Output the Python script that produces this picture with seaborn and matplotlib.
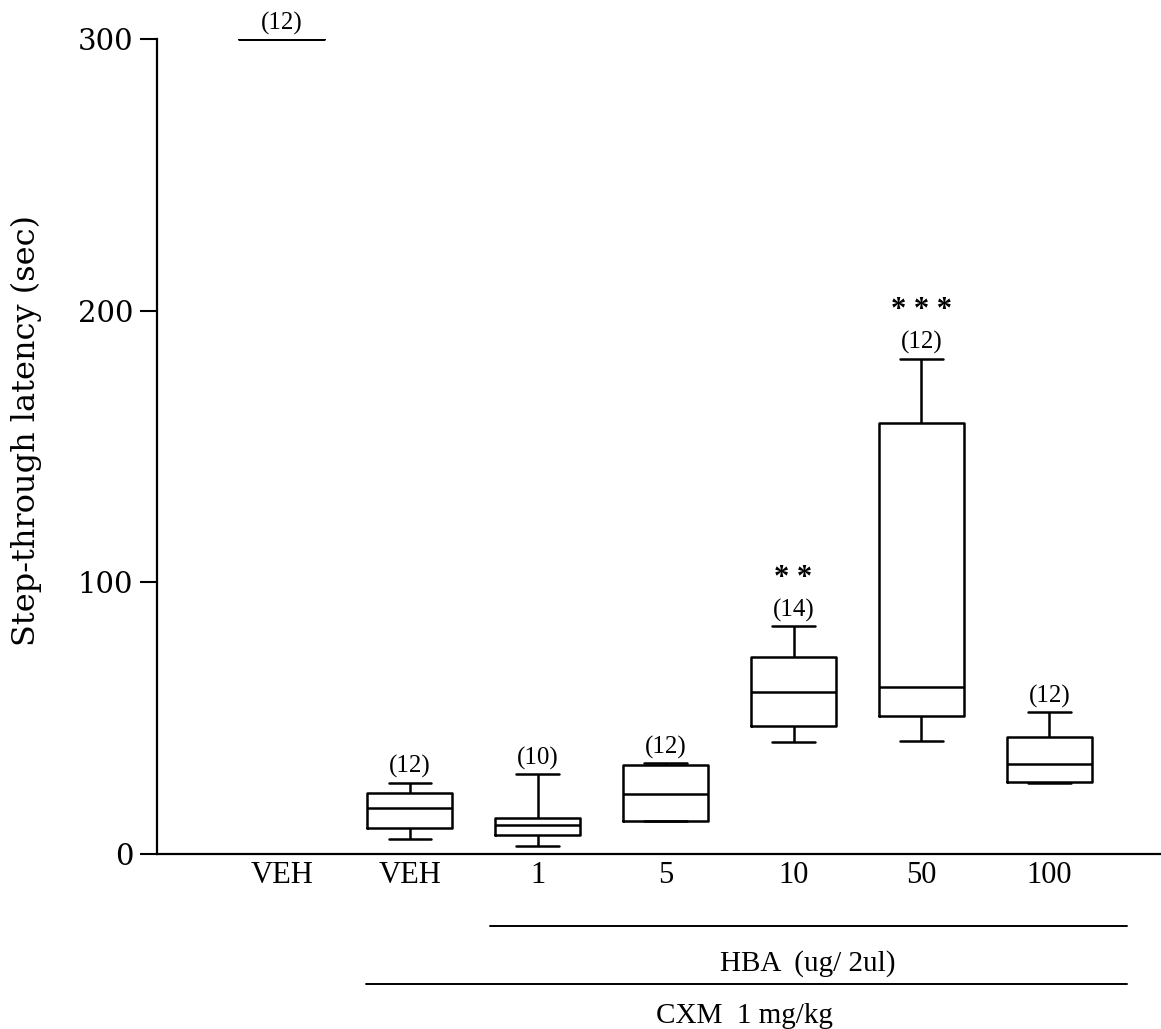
import numpy as np
import pandas as pd
import matplotlib
matplotlib.use('Agg')
import matplotlib.pyplot as plt
import seaborn as sns

# Group labels and box statistics (sec)
groups = ['VEH', 'VEH ', '1', '5', '10', '50', '100']
whisker_lo = [300, 5.6, 2.9, 12.2, 41.3, 41.5, 26.3]
q1 = [300, 9.7, 6.9, 12.2, 47.2, 50.9, 26.7]
median = [300, 17.1, 10.7, 22.2, 59.7, 61.6, 33.2]
q3 = [300, 22.6, 13.1, 32.8, 72.6, 158.5, 43.1]
whisker_hi = [300, 26.3, 29.3, 33.5, 84.0, 182.4, 52.3]
n_labels = ['(12)', '(12)', '(10)', '(12)', '(14)', '(12)', '(12)']
stars = ['', '', '', '', '* *', '* * *', '']

# five summary values per group -> boxplot stats come out exactly
rows = []
for g, a, b, c, d, e in zip(groups, whisker_lo, q1, median, q3, whisker_hi):
    for v in (a, b, c, d, e):
        rows.append({'group': g, 'value': v})
df = pd.DataFrame(rows)

sns.set_style('white')
plt.rcParams['font.family'] = ['Liberation Serif', 'DejaVu Serif']
plt.rcParams['text.color'] = 'black'
plt.rcParams['xtick.color'] = 'black'
plt.rcParams['ytick.color'] = 'black'
plt.rcParams['axes.labelcolor'] = 'black'

fig = plt.figure(figsize=(11.61, 10.29), dpi=100)
ax = fig.add_axes([0.1352, 0.1700, 0.8638, 0.7921])

sns.boxplot(data=df, x='group', y='value', order=groups, whis=(0, 100),
            width=0.665, fill=False, color='black', linecolor='black',
            linewidth=1.8, showfliers=False, ax=ax)

ax.set_xlim(-0.977, 6.864)
ax.set_ylim(0, 300)
ax.set_yticks([0, 100, 200, 300])
ax.set_yticklabels(['0', '100', '200', '300'], fontsize=21, family='DejaVu Serif')
ax.set_xticks(range(len(groups)))
ax.set_xticklabels([g.strip() for g in groups], fontsize=22)
ax.tick_params(axis='x', length=0, pad=5)
ax.tick_params(axis='y', length=12, width=1.5, pad=5, direction='out', left=True)
ax.set_xlabel('')
ax.set_ylabel('Step-through latency (sec)', fontsize=23, family='DejaVu Serif')
ax.yaxis.set_label_coords(-0.1147, 0.52)

sns.despine(ax=ax)
for s in ('left', 'bottom'):
    ax.spines[s].set_linewidth(1.6)
    ax.spines[s].set_color('black')

# n and significance above each box
for i, (hi, n, st) in enumerate(zip(whisker_hi, n_labels, stars)):
    ax.annotate(n, (i, hi), xytext=(0, 3), textcoords='offset points',
                ha='center', va='bottom', fontsize=18, annotation_clip=False)
    if st:
        ax.annotate(st, (i, hi), xytext=(0, 24), textcoords='offset points',
                    ha='center', va='bottom', fontsize=22, fontweight='bold',
                    annotation_clip=False)

# treatment brackets under the axis
trans = ax.get_xaxis_transform()
ax.plot([1.63, 6.61], [-0.0885, -0.0885], color='black', lw=1.4,
        transform=trans, clip_on=False)
ax.text(4.11, -0.134, 'HBA  (ug/ 2ul)', transform=trans, ha='center',
        va='center', fontsize=21)
ax.plot([0.66, 6.61], [-0.160, -0.160], color='black', lw=1.4,
        transform=trans, clip_on=False)
ax.text(3.62, -0.199, 'CXM  1 mg/kg', transform=trans, ha='center',
        va='center', fontsize=21)

fig.savefig('out.png', dpi=100)
